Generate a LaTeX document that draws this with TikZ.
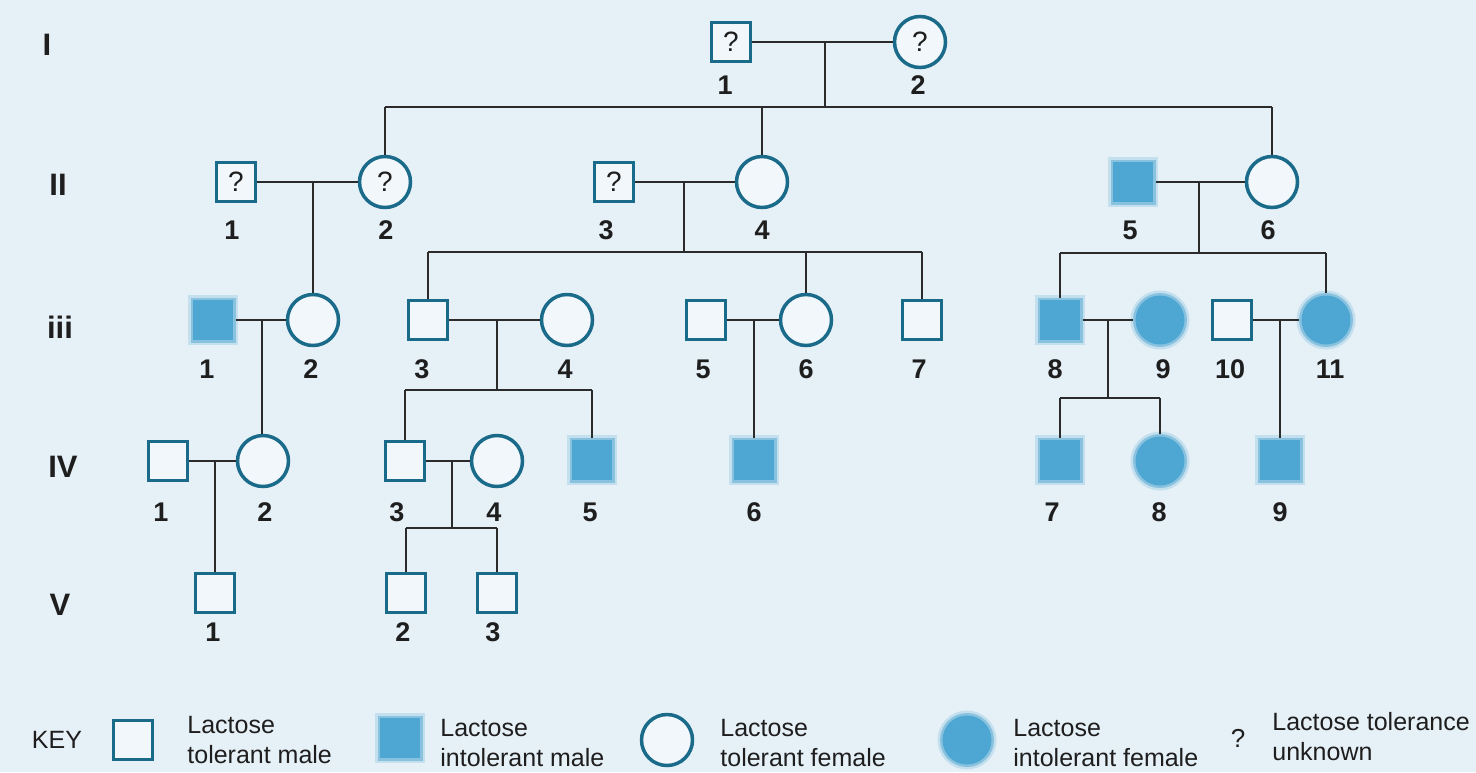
\documentclass[tikz,border=0pt]{standalone}
\usepackage{fontspec}
\setmainfont{Liberation Sans}
\definecolor{bgblue}{HTML}{E6F0F7}
\definecolor{inner}{HTML}{F2F7FB}
\definecolor{edge}{HTML}{1A6A8A}
\definecolor{aff}{HTML}{4EA6D2}
\definecolor{tiec}{HTML}{2B2B2B}
\definecolor{ink}{HTML}{1E1E1E}
\tikzset{
  male/.style={rectangle, draw=edge, line width=1.75pt, fill=inner,
    minimum size=19.5pt, inner sep=0pt, text=ink, font=\fontsize{14}{14}\selectfont},
  female/.style={circle, draw=edge, line width=1.75pt, fill=inner,
    minimum size=25.5pt, inner sep=0pt, text=ink, font=\fontsize{14}{14}\selectfont},
  amale/.style={rectangle, fill=aff, draw=aff, draw opacity=0.5, line width=2.5pt,
    preaction={draw=aff, draw opacity=0.22, line width=5pt},
    minimum size=20pt, inner sep=0pt},
  afemale/.style={circle, fill=aff, draw=aff, draw opacity=0.5, line width=2.5pt,
    preaction={draw=aff, draw opacity=0.22, line width=5pt},
    minimum size=24.5pt, inner sep=0pt},
  num/.style={text=ink, inner sep=0pt, font=\bfseries\fontsize{13.5}{13.5}\selectfont},
  gen/.style={text=ink, inner sep=0pt, font=\bfseries\fontsize{15.5}{15.5}\selectfont},
  tie/.style={draw=tiec, line width=1pt},
  keytext/.style={text=ink, inner sep=0pt, anchor=west, align=left,
    font=\fontsize{12.5}{15}\selectfont},
}
\begin{document}
\begin{tikzpicture}[x=0.5pt,y=-0.5pt]
\fill[bgblue] (0,0) rectangle (1476,772);
\useasboundingbox (0,0) rectangle (1476,772);

% generation numerals
\node[gen] (gI)   at (47,45)  {I};
\node[gen] (gII)  at (58,185) {II};
\node[gen] (gIII) at (60,327) {iii};
\node[gen] (gIV)  at (63,467) {IV};
\node[gen] (gV)   at (60,605) {V};

% ---------- generation I ----------
\node[male]   (I1) at (731,42) {?};
\node[female] (I2) at (920,42) {?};
\node[num] (lI1) at (725,85) {1};
\node[num] (lI2) at (918,85) {2};

% ---------- generation II ----------
\node[male]   (II1) at (236,182) {?};
\node[female] (II2) at (385,182) {?};
\node[male]   (II3) at (614,182) {?};
\node[female] (II4) at (762,182) {};
\node[amale]  (II5) at (1133,182) {};
\node[female] (II6) at (1272,182) {};
\node[num] (lII1) at (232,230) {1};
\node[num] (lII2) at (386,230) {2};
\node[num] (lII3) at (606,230) {3};
\node[num] (lII4) at (762,230) {4};
\node[num] (lII5) at (1130,230) {5};
\node[num] (lII6) at (1268,230) {6};

% ---------- generation III ----------
\node[amale]   (III1)  at (213,320) {};
\node[female]  (III2)  at (313,320) {};
\node[male]    (III3)  at (428,320) {};
\node[female]  (III4)  at (567,320) {};
\node[male]    (III5)  at (706,320) {};
\node[female]  (III6)  at (806,320) {};
\node[male]    (III7)  at (922,320) {};
\node[amale]   (III8)  at (1060,320) {};
\node[afemale] (III9)  at (1160,320) {};
\node[male]    (III10) at (1232,320) {};
\node[afemale] (III11) at (1326,320) {};
\node[num] (lIII1)  at (207,369) {1};
\node[num] (lIII2)  at (311,369) {2};
\node[num] (lIII3)  at (422,369) {3};
\node[num] (lIII4)  at (565,369) {4};
\node[num] (lIII5)  at (703,369) {5};
\node[num] (lIII6)  at (806,369) {6};
\node[num] (lIII7)  at (919,369) {7};
\node[num] (lIII8)  at (1055,369) {8};
\node[num] (lIII9)  at (1163,369) {9};
\node[num] (lIII10) at (1230,369) {10};
\node[num] (lIII11) at (1330,369) {11};

% ---------- generation IV ----------
\node[male]    (IV1) at (168,461) {};
\node[female]  (IV2) at (263,461) {};
\node[male]    (IV3) at (405,461) {};
\node[female]  (IV4) at (497,461) {};
\node[amale]   (IV5) at (592,460) {};
\node[amale]   (IV6) at (754,460) {};
\node[amale]   (IV7) at (1060,460) {};
\node[afemale] (IV8) at (1160,461) {};
\node[amale]   (IV9) at (1280,460) {};
\node[num] (lIV1) at (161,512) {1};
\node[num] (lIV2) at (265,512) {2};
\node[num] (lIV3) at (397,512) {3};
\node[num] (lIV4) at (494,512) {4};
\node[num] (lIV5) at (590,512) {5};
\node[num] (lIV6) at (754,512) {6};
\node[num] (lIV7) at (1052,512) {7};
\node[num] (lIV8) at (1159,512) {8};
\node[num] (lIV9) at (1280,512) {9};

% ---------- generation V ----------
\node[male] (V1) at (215,593) {};
\node[male] (V2) at (406,593) {};
\node[male] (V3) at (497,593) {};
\node[num] (lV1) at (213,632) {1};
\node[num] (lV2) at (403,632) {2};
\node[num] (lV3) at (493,632) {3};

% ---------- mating and sibship lines ----------
\coordinate (mI)  at (825,42);   \coordinate (sI)  at (825,107);
\coordinate (mA)  at (313,182);
\coordinate (mB)  at (684,182);  \coordinate (sB)  at (684,252);
\coordinate (mC)  at (1199,182); \coordinate (sC)  at (1199,253);
\coordinate (mD)  at (262,320);
\coordinate (mE)  at (497,320);  \coordinate (sE)  at (497,390);
\coordinate (mF)  at (754,320);
\coordinate (mG)  at (1108,320); \coordinate (sG)  at (1108,398);
\coordinate (mH)  at (1280,320);
\coordinate (mJ)  at (215,461);
\coordinate (mK)  at (452,461);  \coordinate (sK)  at (452,528);

% I-1 x I-2
\draw[tie] (I1) -- (I2);
\draw[tie] (mI) -- (sI);
\draw[tie] (II2 |- sI) -- (II6 |- sI);
\draw[tie] (II2 |- sI) -- (II2);
\draw[tie] (II4 |- sI) -- (II4);
\draw[tie] (II6 |- sI) -- (II6);
% II-1 x II-2
\draw[tie] (II1) -- (II2);
\draw[tie] (mA) -- (III2);
% II-3 x II-4
\draw[tie] (II3) -- (II4);
\draw[tie] (mB) -- (sB);
\draw[tie] (III3 |- sB) -- (III7 |- sB);
\draw[tie] (III3 |- sB) -- (III3);
\draw[tie] (III6 |- sB) -- (III6);
\draw[tie] (III7 |- sB) -- (III7);
% II-5 x II-6
\draw[tie] (II5) -- (II6);
\draw[tie] (mC) -- (sC);
\draw[tie] (III8 |- sC) -- (III11 |- sC);
\draw[tie] (III8 |- sC) -- (III8);
\draw[tie] (III11 |- sC) -- (III11);
% III-1 x III-2
\draw[tie] (III1) -- (III2);
\draw[tie] (mD) -- (mD |- IV2.north);
% III-3 x III-4
\draw[tie] (III3) -- (III4);
\draw[tie] (mE) -- (sE);
\draw[tie] (IV3 |- sE) -- (IV5 |- sE);
\draw[tie] (IV3 |- sE) -- (IV3);
\draw[tie] (IV5 |- sE) -- (IV5);
% III-5 x III-6
\draw[tie] (III5) -- (III6);
\draw[tie] (mF) -- (IV6);
% III-8 x III-9
\draw[tie] (III8) -- (III9);
\draw[tie] (mG) -- (sG);
\draw[tie] (IV7 |- sG) -- (IV8 |- sG);
\draw[tie] (IV7 |- sG) -- (IV7);
\draw[tie] (IV8 |- sG) -- (IV8);
% III-10 x III-11
\draw[tie] (III10) -- (III11);
\draw[tie] (mH) -- (IV9);
% IV-1 x IV-2
\draw[tie] (IV1) -- (IV2);
\draw[tie] (mJ) -- (V1);
% IV-3 x IV-4
\draw[tie] (IV3) -- (IV4);
\draw[tie] (mK) -- (sK);
\draw[tie] (V2 |- sK) -- (V3 |- sK);
\draw[tie] (V2 |- sK) -- (V2);
\draw[tie] (V3 |- sK) -- (V3);

% ---------- key ----------
\node[text=ink, inner sep=0pt, font=\fontsize{12.5}{15}\selectfont] (key) at (57,740) {KEY};
\node[male]    (k1) at (133,740) {};
\node[keytext] (t1) at (187,740) {Lactose\\tolerant male};
\node[amale]   (k2) at (400,738) {};
\node[keytext] (t2) at (440,743) {Lactose\\intolerant male};
\node[female]  (k3) at (667,740) {};
\node[keytext] (t3) at (720,743) {Lactose\\tolerant female};
\node[afemale] (k4) at (967,740) {};
\node[keytext] (t4) at (1013,743) {Lactose\\intolerant female};
\node[text=ink, inner sep=0pt, font=\fontsize{13}{13}\selectfont] (k5) at (1238,738) {?};
\node[keytext] (t5) at (1272,737) {Lactose tolerance\\unknown};
\end{tikzpicture}
\end{document}
